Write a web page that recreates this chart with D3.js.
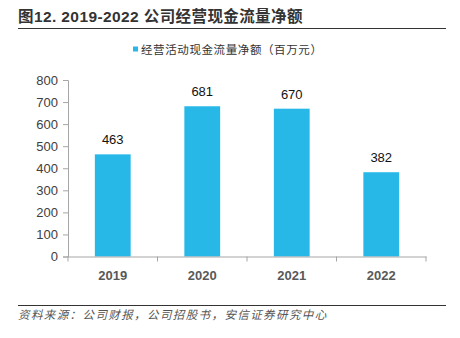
<!DOCTYPE html>
<html><head><meta charset="utf-8">
<script src="https://cdn.jsdelivr.net/npm/d3@7"></script>
<style>body{margin:0;background:#fff;}svg{display:block;}</style>
</head><body>
<svg id="c" width="460" height="338"></svg>
<script>
const categories = ["2019", "2020", "2021", "2022"];
const values = [463, 681, 670, 382];
const yTicks = [0, 100, 200, 300, 400, 500, 600, 700, 800];
const titleText = "图12. 2019-2022 公司经营现金流量净额";
const legendText = "经营活动现金流量净额（百万元）";
const sourceText = "资料来源：公司财报，公司招股书，安信证券研究中心";

const svg = d3.select("#c");
const cjk = "'Noto Sans CJK SC', 'Liberation Sans', Arial, sans-serif";
const latin = "'Liberation Sans', Arial, 'Noto Sans CJK SC', sans-serif";

// title
svg.append("text").attr("x", 18).attr("y", 22)
  .attr("font-family", latin).attr("font-weight", "bold").attr("font-size", 15.5).attr("fill", "#333")
  .attr("letter-spacing", 0.4)
  .text(titleText);
svg.append("line").attr("x1", 18).attr("x2", 446).attr("y1", 28.5).attr("y2", 28.5)
  .attr("stroke", "#333").attr("stroke-width", 1.2);

// legend
svg.append("rect").attr("x", 133).attr("y", 46.5).attr("width", 5).attr("height", 5).attr("fill", "#27B8E8");
svg.append("text").attr("x", 141).attr("y", 53.5)
  .attr("font-family", cjk).attr("font-size", 11.5).attr("fill", "#333").attr("letter-spacing", 0.6)
  .text(legendText);

const x = d3.scaleBand().domain(categories).range([68, 426]).paddingInner(0.6).paddingOuter(0.3);
const y = d3.scaleLinear().domain([0, 800]).range([256.5, 80]);

// y axis
const ya = svg.append("g").attr("transform", "translate(68,0)")
  .call(d3.axisLeft(y).tickValues(yTicks).tickSize(5).tickPadding(5).tickFormat(d3.format("d")));
ya.select(".domain").attr("stroke", "#a6a6a6");
ya.selectAll(".tick line").attr("stroke", "#a6a6a6");
ya.selectAll(".tick text").attr("font-family", latin).attr("font-size", 13).attr("fill", "#404040");

// bars
svg.append("g").selectAll("rect").data(values).join("rect")
  .attr("x", (d, i) => x(categories[i]))
  .attr("width", x.bandwidth())
  .attr("y", d => y(d))
  .attr("height", d => y(0) - y(d))
  .attr("fill", "#27B8E8");

// value labels
svg.append("g").selectAll("text").data(values).join("text")
  .attr("x", (d, i) => x(categories[i]) + x.bandwidth() / 2)
  .attr("y", d => y(d) - 10)
  .attr("text-anchor", "middle")
  .attr("font-family", latin).attr("font-size", 13).attr("fill", "#111")
  .text(d => d);

// x axis
const xa = svg.append("g").attr("transform", "translate(0,256.5)")
  .call(d3.axisBottom(x).tickSize(0).tickPadding(14));
xa.select(".domain").attr("stroke", "#a6a6a6");
xa.selectAll(".tick text").attr("font-family", latin).attr("font-weight", "bold").attr("font-size", 13).attr("fill", "#595959");
const bounds = [68].concat(categories.map(c => x(c) + x.bandwidth() / 2 + x.step() / 2));
xa.selectAll(".bt").data(bounds).join("line").attr("class", "bt")
  .attr("x1", d => d).attr("x2", d => d).attr("y1", 0).attr("y2", 5)
  .attr("stroke", "#a6a6a6");

// bottom rule and source
svg.append("line").attr("x1", 18).attr("x2", 446).attr("y1", 305.5).attr("y2", 305.5)
  .attr("stroke", "#333").attr("stroke-width", 1.2);
svg.append("text").attr("x", 18).attr("y", 319)
  .attr("font-family", cjk).attr("font-style", "italic").attr("font-size", 11.5).attr("fill", "#555")
  .attr("letter-spacing", 1.4)
  .text(sourceText);
</script>
</body></html>
